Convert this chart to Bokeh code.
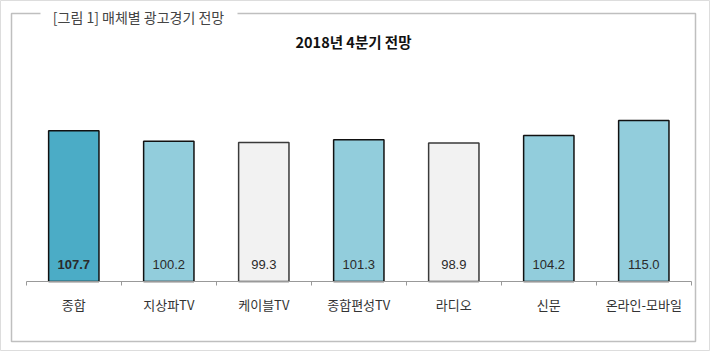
from bokeh.plotting import figure
from bokeh.models import Range1d, FixedTicker, ColumnDataSource
from bokeh.core.properties import value
from bokeh.embed import file_html
from bokeh.resources import INLINE

categories = ["종합", "지상파TV", "케이블TV", "종합편성TV", "라디오", "신문", "온라인-모바일"]
values = [107.7, 100.2, 99.3, 101.3, 98.9, 104.2, 115.0]
value_labels = ["107.7", "100.2", "99.3", "101.3", "98.9", "104.2", "115.0"]
bar_colors = ["#4bacc6", "#92cddc", "#f2f2f2", "#92cddc", "#f2f2f2", "#92cddc", "#92cddc"]
bar_lines = ["#111111", "#111111", "#3a3a3a", "#111111", "#3a3a3a", "#111111", "#111111"]
label_styles = ["bold", "normal", "normal", "normal", "normal", "normal", "normal"]

W, H = 710, 351
# scale geometry: category pitch 95px, first centre at 73.3px; baseline at 281px, 1.4px per unit
X0, DX = 73.3, 95.0
Y0, DY = 281.0, 1.4
x_start, x_end = -X0 / DX, (W - X0) / DX
y_start, y_end = -(H - Y0) / DY, Y0 / DY

def px_x(px):
    return (px - X0) / DX

def px_y(py):
    return (Y0 - py) / DY

p = figure(width=W, height=H, x_range=Range1d(x_start, x_end), y_range=Range1d(y_start, y_end),
           output_backend="svg", toolbar_location=None, min_border=0,
           min_border_left=0, min_border_right=0, min_border_top=0, min_border_bottom=0)
p.background_fill_color = "white"
p.border_fill_color = "white"
p.outline_line_color = "#dddddd"
p.xgrid.visible = False
p.ygrid.visible = False
p.yaxis.visible = False

idx = list(range(len(categories)))
src = ColumnDataSource(dict(x=idx, top=values, color=bar_colors, line=bar_lines,
                            lab=value_labels, style=label_styles,
                            ly=[px_y(264)] * len(idx)))

# outer frame with gap for caption
fx = [px_x(237), px_x(695), px_x(695), px_x(11), px_x(11), px_x(40)]
fy = [px_y(13), px_y(13), px_y(341), px_y(341), px_y(13), px_y(13)]
p.line(fx, fy, line_color="#bfbfbf", line_width=1.5)

p.vbar(x="x", top="top", bottom=0, width=0.53, fill_color="color", line_color="line",
       line_width=1.5, source=src)

p.text(x="x", y="ly", text="lab", source=src, text_align="center", text_baseline="middle",
       text_font=value("Liberation Sans Narrow, Liberation Sans, sans-serif"),
       text_font_size="13px", text_font_style="style", text_color="#2a2a2a")

# caption and title
p.text(x=[px_x(138)], y=[px_y(16)], text=["[그림 1] 매체별 광고경기 전망"],
       text_align="center", text_baseline="middle", text_font=value("Noto Sans CJK KR"),
       text_font_size="14px", text_color="#444444")
p.text(x=[px_x(353)], y=[px_y(41)], text=["2018년 4분기 전망"],
       text_align="center", text_baseline="middle", text_font=value("Noto Sans CJK KR"),
       text_font_size="14.5px", text_font_style="bold", text_color="#111111")

ax = p.xaxis[0]
ax.fixed_location = 0
ax.bounds = (-0.5, len(categories) - 0.5)
ax.ticker = FixedTicker(ticks=idx, minor_ticks=[i - 0.5 for i in range(len(categories) + 1)])
ax.major_label_overrides = {i: c for i, c in enumerate(categories)}
ax.major_tick_in = 0
ax.major_tick_out = 0
ax.minor_tick_in = 0
ax.minor_tick_out = 4
ax.minor_tick_line_color = "#999999"
ax.axis_line_color = "#999999"
ax.axis_line_width = 1
ax.major_label_standoff = 9
ax.major_label_text_font = "Noto Sans CJK KR"
ax.major_label_text_font_size = "13px"
ax.major_label_text_color = "#333333"

open("out.html", "w").write(file_html(p, INLINE))
